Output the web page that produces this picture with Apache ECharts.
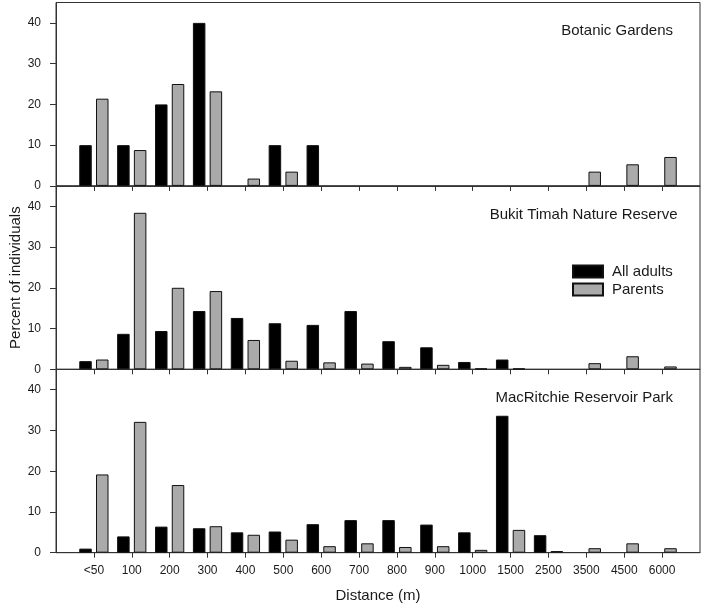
<!DOCTYPE html>
<html>
<head>
<meta charset="utf-8">
<script src="https://cdn.jsdelivr.net/npm/echarts@6/dist/echarts.min.js"></script>
<style>
html,body{margin:0;padding:0;background:#fff;}
#chart{width:702px;height:606px;}
</style>
</head>
<body>
<div id="chart"></div>
<script>
const categories = ['<50','100','200','300','400','500','600','700','800','900','1000','1500','2500','3500','4500','6000'];
const yTicks = [0, 10, 20, 30, 40];
const panelTitles = ['Botanic Gardens', 'Bukit Timah Nature Reserve', 'MacRitchie Reservoir Park'];
const seriesNames = ['All adults', 'Parents'];

const botanicAdults  = [10, 10, 20, 40, 0, 10, 10, 0, 0, 0, 0, 0, 0, 0, 0, 0];
const botanicParents = [21.4, 8.8, 25, 23.2, 1.8, 3.5, 0, 0, 0, 0, 0, 0, 0, 3.5, 5.3, 7.1];
const bukitAdults    = [2.0, 8.7, 9.4, 14.3, 12.6, 11.3, 10.9, 14.3, 6.9, 5.4, 1.8, 2.4, 0, 0, 0, 0];
const bukitParents   = [2.4, 38.4, 20.0, 19.2, 7.2, 2.1, 1.7, 1.4, 0.6, 1.1, 0.2, 0.2, 0, 1.5, 3.2, 0.7];
const macAdults      = [1.0, 4.0, 6.4, 6.0, 5.0, 5.2, 7.0, 8.0, 8.0, 6.9, 5.0, 33.6, 4.3, 0, 0, 0];
const macParents     = [19.2, 32.1, 16.6, 6.5, 4.4, 3.2, 1.6, 2.3, 1.4, 1.6, 0.7, 5.6, 0.4, 1.1, 2.3, 1.1];

const panels = [
  [botanicAdults, botanicParents],
  [bukitAdults, bukitParents],
  [macAdults, macParents]
];

const FONT = "'Liberation Sans', Arial, sans-serif";
const axisCats = [''].concat(categories, ['']);
const lastIdx = axisCats.length - 1;
const frameColor = '#333';
const textColor = '#1a1a1a';
const colors = ['#000000', '#aaaaaa'];

const gridTops = [2.5, 185.9, 369.3];
const gridH = 183.4;

const grids = gridTops.map(t => ({
  left: 56, width: 644, top: t, height: gridH,
  containLabel: false, outerBoundsMode: 'none',
  show: true, borderColor: frameColor, borderWidth: 1, backgroundColor: 'transparent'
}));

const xAxes = gridTops.map((t, i) => ({
  type: 'category', gridIndex: i, data: axisCats, boundaryGap: false, position: 'bottom',
  axisLine: { show: true, onZero: false, lineStyle: { color: frameColor, width: 1 } },
  axisTick: { show: true, length: 5, inside: false,
    interval: (idx) => idx > 0 && idx < lastIdx,
    lineStyle: { color: frameColor } },
  axisLabel: { show: i === 2, interval: 0, margin: 12, fontSize: 12, color: textColor, fontFamily: FONT },
  splitLine: { show: false },
  name: i === 2 ? 'Distance (m)' : '',
  nameLocation: 'middle', nameGap: 36, nameMoveOverlap: false,
  nameTextStyle: { fontSize: 15, color: textColor, fontFamily: FONT }
}));

const yAxes = gridTops.map((t, i) => ({
  type: 'value', gridIndex: i, min: 0, max: 45, interval: 10, position: 'left',
  axisLine: { show: true, onZero: false, lineStyle: { color: frameColor, width: 1 } },
  axisTick: { show: true, length: 6, inside: false, customValues: yTicks, lineStyle: { color: frameColor } },
  axisLabel: { show: true, customValues: yTicks, margin: 15, fontSize: 12, color: textColor, fontFamily: FONT },
  splitLine: { show: false },
  name: i === 1 ? 'Percent of individuals' : '',
  nameLocation: 'middle', nameGap: 33, nameMoveOverlap: false,
  nameTextStyle: { fontSize: 15, color: textColor, fontFamily: FONT }
}));

const series = [];
panels.forEach((pair, gi) => {
  pair.forEach((vals, si) => {
    series.push({
      type: 'bar', name: seriesNames[si], xAxisIndex: gi, yAxisIndex: gi,
      data: [null].concat(vals.map(v => (v === 0 ? null : v)), [null]),
      barWidth: 12.5, barGap: '34%',
      itemStyle: { color: colors[si], borderColor: '#111', borderWidth: 1 },
      emphasis: { disabled: true },
      animation: false
    });
  });
});

const titleTops = [23, 207.5, 390.5];
const titleRights = [29, 24.5, 29];
const titles = panelTitles.map((txt, i) => ({
  text: txt, right: titleRights[i], top: titleTops[i], padding: 0,
  textStyle: { fontSize: 15, fontWeight: 'normal', color: textColor, fontFamily: FONT }
}));

const chart = echarts.init(document.getElementById('chart'), null, { renderer: 'canvas' });
chart.setOption({
  animation: false,
  backgroundColor: '#ffffff',
  title: titles,
  legend: {
    data: seriesNames, orient: 'vertical', left: 572, top: 263, padding: 0,
    itemWidth: 30, itemHeight: 12, itemGap: 1, icon: 'rect',
    selectedMode: false,
    textStyle: { fontSize: 15, color: textColor, fontFamily: FONT, lineHeight: 17, padding: [0, 0, 0, 4] }
  },
  grid: grids,
  xAxis: xAxes,
  yAxis: yAxes,
  series: series
});
</script>
</body>
</html>
